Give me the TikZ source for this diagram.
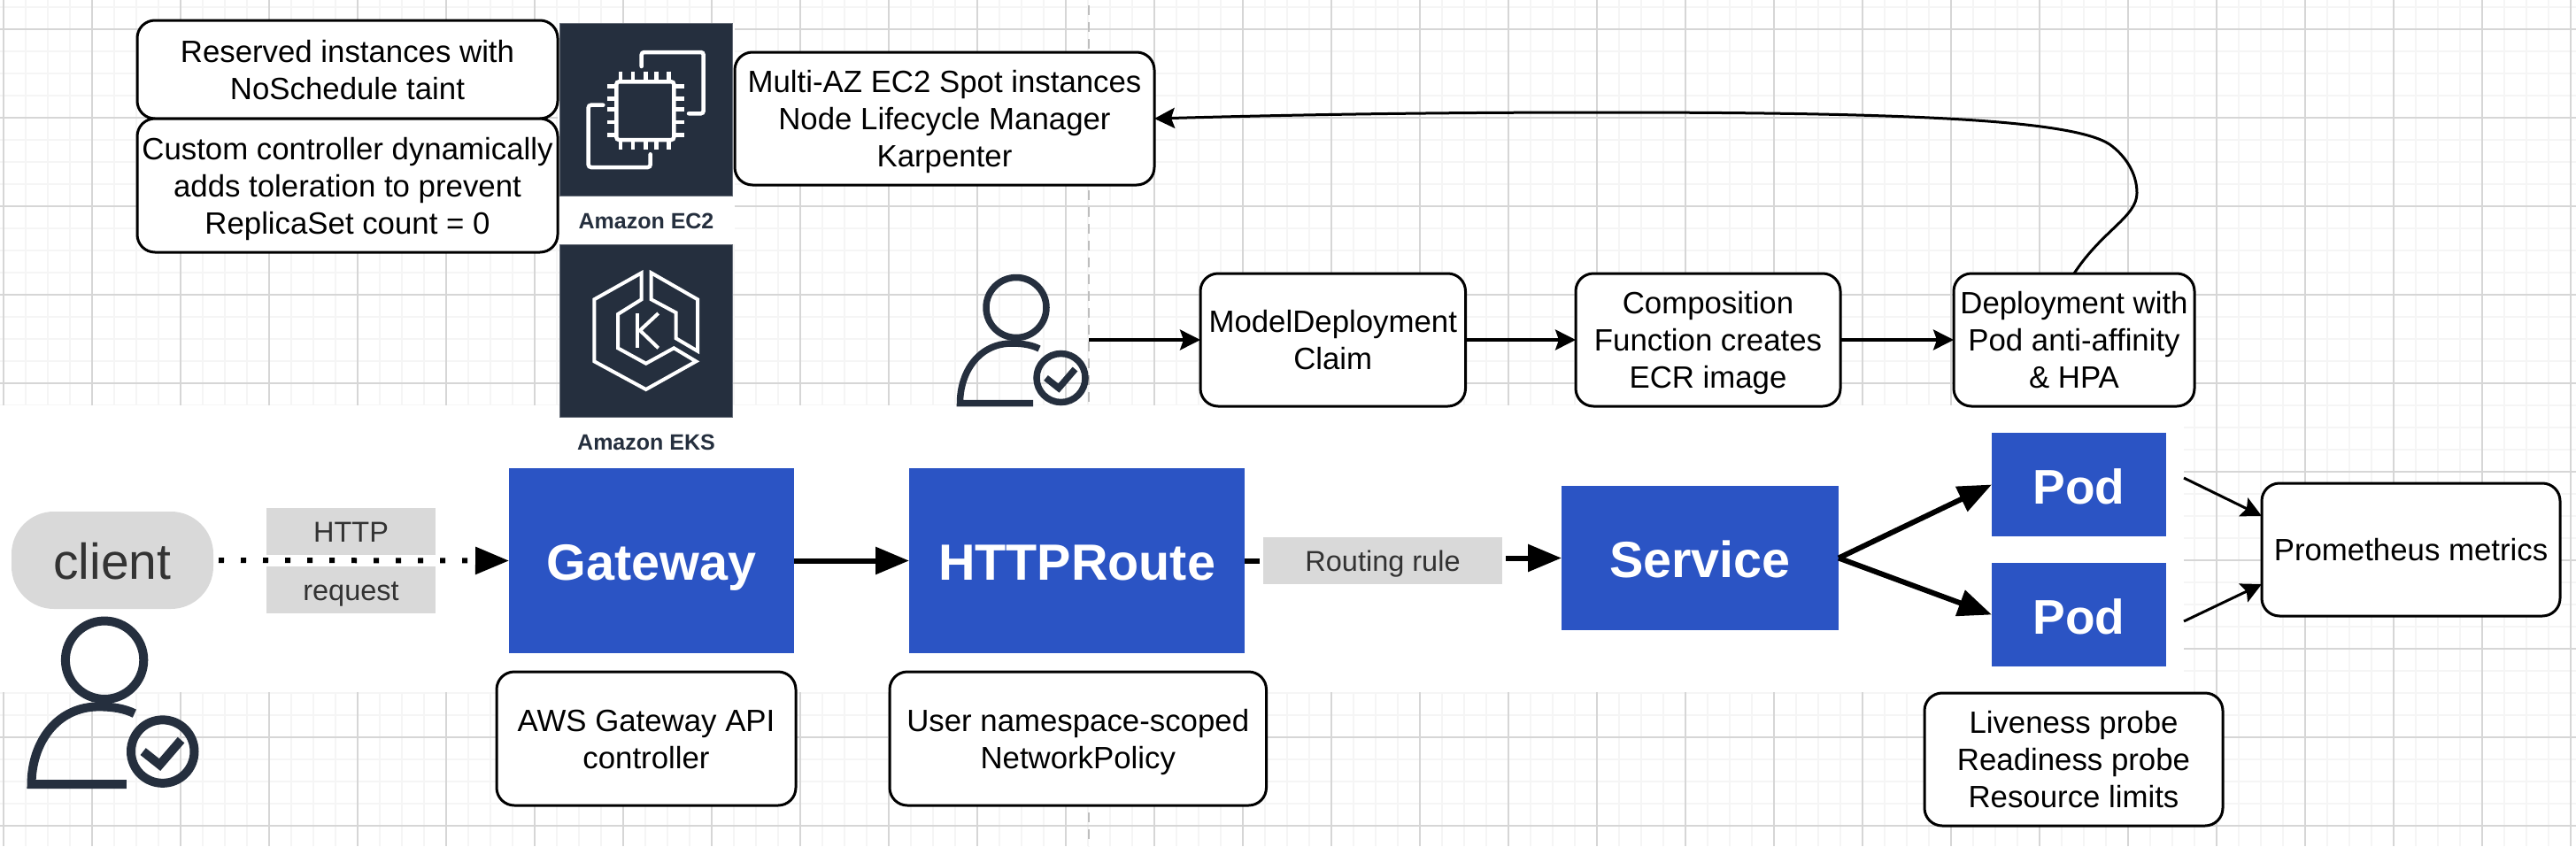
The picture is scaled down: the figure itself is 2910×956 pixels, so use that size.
\documentclass[tikz,border=0pt]{standalone}
\usepackage{fontspec}
\setmainfont{Liberation Sans}
\usetikzlibrary{arrows.meta}
\definecolor{gridminor}{RGB}{245,245,245}
\definecolor{gridmajor}{RGB}{214,214,214}
\definecolor{pagedash}{RGB}{190,190,190}
\definecolor{awsnavy}{RGB}{37,47,62}
\definecolor{k8sblue}{RGB}{43,84,196}
\definecolor{labelgray}{RGB}{217,217,217}
\tikzset{
  infobox/.style={rectangle, draw=black, fill=white, line width=3pt, rounded corners=20pt, align=center, inner sep=0pt, outer sep=0pt, font=\fontsize{34.8}{42}\selectfont,
    execute at begin node={\rule[-17pt]{0pt}{\dimexpr42pt*#1+17pt\relax}}},
  infobox/.default=2,
  bluebox/.style={rectangle, fill=k8sblue, inner sep=0pt, outer sep=0pt, text=white, text height=52pt, text depth=9pt, font=\fontsize{57.5}{60}\selectfont\bfseries},
  graylabel/.style={rectangle, fill=labelgray, inner sep=0pt, outer sep=0pt, text=black!80, text height=30pt, text depth=7pt, font=\fontsize{32.5}{40}\selectfont},
  iconsquare/.style={rectangle, fill=awsnavy, draw=awsnavy!70, line width=1pt, minimum size=195pt, inner sep=0pt, outer sep=0pt},
  iconlabel/.style={text=awsnavy, inner sep=0pt, font=\fontsize{25}{30}\selectfont\bfseries},
  iconline/.style={draw=white, line width=4.5pt},
  bigarrow/.style={line width=6pt, -{Triangle[length=38pt,width=30pt]}},
  midarrow/.style={line width=3.5pt, -{Stealth[length=23pt,width=23pt,inset=4pt]}},
  thinarrow/.style={line width=3pt, -{Stealth[length=23pt,width=23pt,inset=4pt]}},
  pics/usericon/.style={code={
    \draw[awsnavy, line width=#1] (67,37.5) circle (34);
    \draw[awsnavy, line width=#1] (117.5,117) circle (27.5);
    \draw[awsnavy, line width=#1] (86,145.5) -- (3.5,145.5) .. controls (3.5,110) and (25,78) .. (62,78) .. controls (75,78) and (85,80) .. (93,84);
    \draw[awsnavy, line width=#1] (100.5,117) -- (115,128.5) -- (133.5,107);
  }},
}
\begin{document}
\begin{tikzpicture}[x=1pt, y=-1pt, line join=miter]
\useasboundingbox (0,0) rectangle (2910,956);
\foreach \gx in {4,29,...,2904} \draw[gridminor, line width=2pt] (\gx,0) -- (\gx,956);
\foreach \gy in {8,33,...,933} \draw[gridminor, line width=2pt] (0,\gy) -- (2910,\gy);
\foreach \gx in {4,104,...,2904} \draw[gridmajor, line width=1.2pt] (\gx,0) -- (\gx,956);
\foreach \gy in {33,133,...,933} \draw[gridmajor, line width=1.2pt] (0,\gy) -- (2910,\gy);
\draw[pagedash, line width=1.5pt, dash pattern=on 11pt off 8pt] (1230,6) -- (1230,956);
\fill[white] (0,458) rectangle (2467,782);
\fill[white] (630,26) rectangle (830,276);

\node[infobox, minimum width=475pt, minimum height=111pt] (reserved) at (392.5,78.5) {Reserved instances with\\NoSchedule taint};
\node[infobox=3, minimum width=475pt, minimum height=151pt] (custom) at (392.5,209.5) {Custom controller dynamically\\adds toleration to prevent\\ReplicaSet count = 0};
\node[infobox=3, minimum width=474pt, minimum height=150pt] (spot) at (1067,134) {Multi-AZ EC2 Spot instances\\Node Lifecycle Manager\\Karpenter};

\node[iconsquare] (ec2) at (730,123.5) {};
\begin{scope}[shift={(632,26)}]
  \draw[iconline, line cap=round, rounded corners=3pt] (92.7,49) -- (92.7,33) -- (162.7,33) -- (162.7,102.3) -- (146,102.3);
  \draw[iconline, line cap=round, rounded corners=3pt] (49.3,92.7) -- (32.7,92.7) -- (32.7,163) -- (102.7,163) -- (102.7,148.3);
  \draw[iconline, rounded corners=3pt] (64.3,66.3) rectangle (129.3,132);
  \foreach \px in {69,83,97.7,109.7,123.7} {
    \draw[iconline] (\px,54.7) -- (\px,66.3);
    \draw[iconline] (\px,132) -- (\px,143.3);
  }
  \foreach \py in {71.3,85.7,97.7,112,126.7} {
    \draw[iconline] (54.3,\py) -- (64.3,\py);
    \draw[iconline] (129.3,\py) -- (141,\py);
  }
\end{scope}
\node[iconlabel] (ec2label) at (730,250) {Amazon EC2};

\node[iconsquare] (eks) at (730,373.5) {};
\begin{scope}[shift={(632,276)}]
  \draw[iconline, line width=4pt] (92.7,32.3) -- (39.3,62.3) -- (39.3,132.3) -- (97.7,164) -- (154.3,132.3) -- (129.3,117.3) -- (97.7,134.7) -- (66,117.3) -- (66,79) -- (92.7,62.3) -- cycle;
  \draw[iconline, line width=4pt] (103.7,32.3) -- (156,62.3) -- (156,120.7) -- (131.7,106.3) -- (131.7,77.3) -- (103.7,62.3) -- cycle;
  \draw[iconline, line width=4pt] (88.3,78) -- (88.3,117.3);
  \draw[iconline, line width=4pt] (111.7,78) -- (91,97.3) -- (111.7,117.3);
\end{scope}
\node[iconlabel] (ekslabel) at (730,500) {Amazon EKS};

\pic at (1081,310) {usericon=7.5pt};
\coordinate (userout) at (1230,384);
\node[infobox, minimum width=299.5pt, minimum height=150pt] (claim) at (1505.75,384) {ModelDeployment\\Claim};
\node[infobox=3, minimum width=299pt, minimum height=150pt] (compfn) at (1929.5,384) {Composition\\Function creates\\ECR image};
\node[infobox=3, minimum width=272pt, minimum height=150pt] (deploy) at (2343,384) {Deployment with\\Pod anti-affinity\\\& HPA};

\draw[midarrow] (userout) -- (claim);
\draw[midarrow] (claim) -- (compfn);
\draw[midarrow] (compfn) -- (deploy);
\draw[thinarrow] (deploy.north) .. controls (2375,260) and (2414,245) .. (2414,218) .. controls (2414,195) and (2400,175) .. (2383,163) .. controls (2340,135) and (2150,127) .. (1813,127) .. controls (1600,127) and (1450,130) .. (spot.east);

\node[graylabel, rounded corners=48pt, minimum width=228pt, minimum height=110pt, text height=52pt, text depth=9pt, font=\fontsize{57}{60}\selectfont] (client) at (127,633) {client};
\pic[scale=1.3] at (31,697) {usericon=10pt};
\node[graylabel, minimum width=191pt, minimum height=53pt] (httplabel) at (396.5,600.5) {HTTP};
\node[graylabel, minimum width=191pt, minimum height=53pt] (reqlabel) at (396.5,666.5) {request};
\node[bluebox, minimum width=322pt, minimum height=209pt] (gateway) at (736,633.5) {Gateway};
\node[bluebox, minimum width=379pt, minimum height=209pt] (route) at (1216.5,633.5) {HTTPRoute};
\node[graylabel, minimum width=270pt, minimum height=53pt] (rule) at (1562,633.5) {Routing rule};
\node[bluebox, minimum width=313pt, minimum height=163pt] (service) at (1920.5,630.5) {Service};
\node[bluebox, minimum width=197pt, minimum height=117pt, font=\fontsize{55}{60}\selectfont\bfseries] (podA) at (2348.5,547.5) {Pod};
\node[bluebox, minimum width=197pt, minimum height=117pt, font=\fontsize{55}{60}\selectfont\bfseries] (podB) at (2348.5,694.5) {Pod};
\node[infobox=1, minimum width=337pt, minimum height=150pt] (prom) at (2723.5,621) {Prometheus metrics};

\draw[bigarrow, line width=6pt, dash pattern=on 6pt off 19pt, shorten <=6pt] (client) ++(114pt,0) -- (gateway.west);
\draw[bigarrow] (gateway) -- (route);
\draw[line width=6pt, shorten >=4pt] (route.east) -- (rule.west);
\draw[bigarrow, shorten <=4pt] (rule.east |- service.west) -- (service.west);
\draw[bigarrow] (service.east) -- (podA.west);
\draw[bigarrow] (service.east) -- (podB.west);
\coordinate (podAout) at ([xshift=20pt,yshift=7.5pt]podA.east);
\coordinate (podBout) at ([xshift=20pt,yshift=-7.5pt]podB.east);
\draw[thinarrow] (podAout) -- ([yshift=38pt]prom.west);
\draw[thinarrow] (podBout) -- ([yshift=-39pt]prom.west);

\node[infobox, minimum width=338pt, minimum height=151pt] (gwnote) at (730,834.5) {AWS Gateway API\\controller};
\node[infobox, minimum width=425.5pt, minimum height=151pt] (netnote) at (1217.75,834.5) {User namespace-scoped\\NetworkPolicy};
\node[infobox=3, minimum width=337pt, minimum height=150pt] (probes) at (2342.5,858) {Liveness probe\\Readiness probe\\Resource limits};
\end{tikzpicture}
\end{document}
